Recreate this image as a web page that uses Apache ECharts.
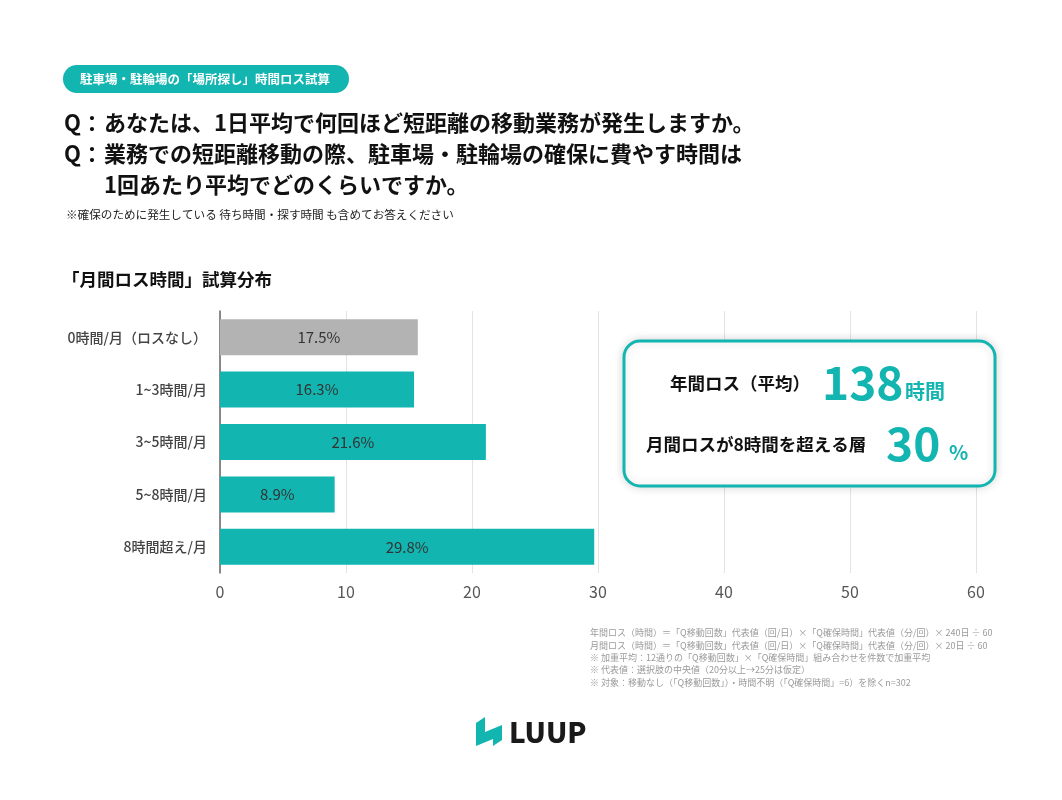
<!DOCTYPE html>
<html>
<head>
<meta charset="utf-8">
<script src="https://cdn.jsdelivr.net/npm/echarts@6/dist/echarts.min.js"></script>
<style>
  html, body { margin: 0; padding: 0; background: #fff; }
  #chart { width: 1062px; height: 800px; }
</style>
</head>
<body>
<div id="chart"></div>
<script>
// カテゴリ（上から順）
var categories = ['0時間/月（ロスなし）', '1~3時間/月', '3~5時間/月', '5~8時間/月', '8時間超え/月'];
// 棒の長さ
var barValues = [15.7, 15.4, 21.1, 9.1, 29.7];
// 棒の中のラベル
var barLabels = ['17.5%', '16.3%', '21.6%', '8.9%', '29.8%'];
var barColors = ['#b3b3b3', '#13b5b1', '#13b5b1', '#13b5b1', '#13b5b1'];

var footnotes = [
  '年間ロス（時間）＝「Q移動回数」代表値（回/日）×「Q確保時間」代表値（分/回）× 240日 ÷ 60',
  '月間ロス（時間）＝「Q移動回数」代表値（回/日）×「Q確保時間」代表値（分/回）× 20日 ÷ 60',
  '※ 加重平均：12通りの「Q移動回数」×「Q確保時間」組み合わせを件数で加重平均',
  '※ 代表値：選択肢の中央値（20分以上→25分は仮定）',
  '※ 対象：移動なし（「Q移動回数」）・時間不明（「Q確保時間」=6）を除くn=302'
];

var FONT = '"Noto Sans CJK JP", "Noto Sans", sans-serif';
var TEAL = '#13b5b1';

var chart = echarts.init(document.getElementById('chart'));

var graphics = [
  // バッジ
  { type: 'rect', shape: { x: 63, y: 65, width: 286, height: 28, r: 14 }, style: { fill: TEAL } },
  { type: 'text', x: 80, y: 79, style: { text: '駐車場・駐輪場の「場所探し」時間ロス試算', fill: '#fff', font: 'bold 12.5px ' + FONT, textVerticalAlign: 'middle' } },
  // 質問
  { type: 'text', x: 64, y: 123, style: { text: 'Q：', fill: '#111', font: 'bold 22px ' + FONT, textVerticalAlign: 'middle' } },
  { type: 'text', x: 104, y: 123, style: { text: 'あなたは、1日平均で何回ほど短距離の移動業務が発生しますか。', fill: '#111', font: 'bold 22px ' + FONT, textVerticalAlign: 'middle' } },
  { type: 'text', x: 64, y: 154, style: { text: 'Q：', fill: '#111', font: 'bold 22px ' + FONT, textVerticalAlign: 'middle' } },
  { type: 'text', x: 104, y: 154, style: { text: '業務での短距離移動の際、駐車場・駐輪場の確保に費やす時間は', fill: '#111', font: 'bold 22px ' + FONT, textVerticalAlign: 'middle' } },
  { type: 'text', x: 104, y: 185, style: { text: '1回あたり平均でどのくらいですか。', fill: '#111', font: 'bold 22px ' + FONT, textVerticalAlign: 'middle' } },
  { type: 'text', x: 66, y: 215, style: { text: '※確保のために発生している 待ち時間・探す時間 も含めてお答えください', fill: '#222', font: '11.6px ' + FONT, textVerticalAlign: 'middle' } },
  // 小見出し
  { type: 'text', x: 62, y: 279, style: { text: '「月間ロス時間」試算分布', fill: '#111', font: 'bold 17.5px ' + FONT, textVerticalAlign: 'middle' } },
  // サマリーボックス
  { type: 'rect', shape: { x: 624, y: 341, width: 371, height: 145, r: 16 },
    style: { fill: '#fff', stroke: TEAL, lineWidth: 3, shadowBlur: 10, shadowColor: 'rgba(0,0,0,0.15)' }, z: 10 },
  { type: 'text', x: 670, y: 383, z: 11, style: { text: '年間ロス（平均）', fill: '#111', font: 'bold 17.5px ' + FONT, textVerticalAlign: 'middle' } },
  { type: 'text', x: 822, y: 383, z: 11, style: { text: '138', fill: TEAL, font: 'bold 46px ' + FONT, textVerticalAlign: 'middle' } },
  { type: 'text', x: 905, y: 391, z: 11, style: { text: '時間', fill: TEAL, font: 'bold 20px ' + FONT, textVerticalAlign: 'middle' } },
  { type: 'text', x: 646, y: 444, z: 11, style: { text: '月間ロスが8時間を超える層', fill: '#111', font: 'bold 17.5px ' + FONT, textVerticalAlign: 'middle' } },
  { type: 'text', x: 886, y: 444, z: 11, style: { text: '30', fill: TEAL, font: 'bold 46px ' + FONT, textVerticalAlign: 'middle' } },
  { type: 'text', x: 949, y: 452, z: 11, style: { text: '%', fill: TEAL, font: 'bold 20px ' + FONT, textVerticalAlign: 'middle' } },
  // ロゴ
  { type: 'polygon', shape: { points: [[476, 723], [485, 717], [485, 732], [502, 725], [502, 740], [493, 746], [493, 739], [476, 746]] }, style: { fill: TEAL } },
  { type: 'text', x: 509, y: 732, style: { text: 'LUUP', fill: '#1a1a1a', font: '900 28px ' + FONT, textVerticalAlign: 'middle' } }
];

footnotes.forEach(function (t, i) {
  graphics.push({ type: 'text', x: 590, y: 633 + i * 12.3, style: { text: t, fill: '#9a9a9a', font: '9px ' + FONT, textVerticalAlign: 'middle' } });
});

var option = {
  animation: false,
  backgroundColor: '#fff',
  textStyle: { fontFamily: FONT },
  grid: { left: 220, right: 86, top: 311, height: 262, containLabel: false },
  xAxis: {
    type: 'value', min: 0, max: 60, interval: 10,
    axisLine: { show: false },
    axisTick: { show: false },
    splitLine: { lineStyle: { color: '#e3e3e3', width: 1 } },
    axisLabel: { color: '#555', fontSize: 16, margin: 11, fontFamily: FONT }
  },
  yAxis: {
    type: 'category', inverse: true, data: categories,
    axisLine: { lineStyle: { color: '#666', width: 1.5 } },
    axisTick: { show: false },
    axisLabel: { color: '#444', fontSize: 14, fontWeight: 500, margin: 13, fontFamily: FONT }
  },
  series: [{
    type: 'bar',
    barWidth: 36,
    data: barValues.map(function (v, i) {
      return { value: v, itemStyle: { color: barColors[i] } };
    }),
    label: {
      show: true, position: 'inside', color: '#333', fontSize: 15, fontFamily: FONT,
      formatter: function (p) { return barLabels[p.dataIndex]; }
    }
  }],
  graphic: graphics
};

chart.setOption(option);
</script>
</body>
</html>
